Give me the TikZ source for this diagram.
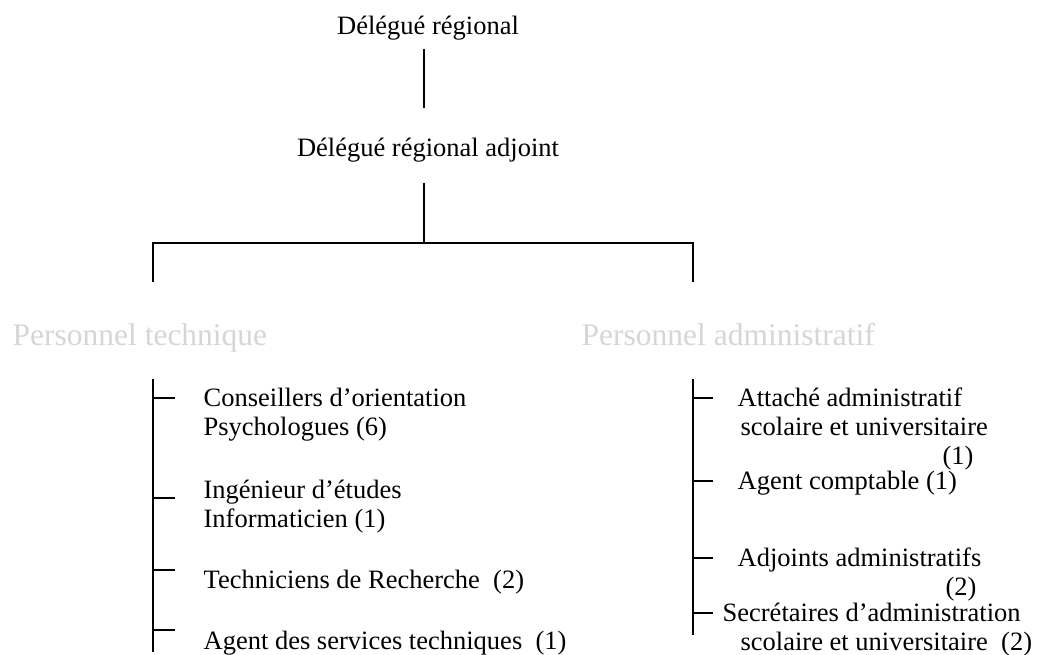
\documentclass[tikz,border=0pt]{standalone}
\usepackage{fontspec}
\setmainfont{Liberation Serif}
\begin{document}
\begin{tikzpicture}[x=1pt,y=-1pt,line width=1.3pt,
    every node/.style={inner sep=0pt,font=\fontsize{26.5}{29}\selectfont},
    post/.style={anchor=base west},
    head/.style={anchor=base west,text=gray!32,font=\fontsize{31.5}{34}\selectfont}]
      \useasboundingbox (0,0) rectangle (1039,655);
      \draw
        (428,35) node[anchor=base] (dr){Délégué régional}
        (428,157) node[anchor=base] (dra){Délégué régional adjoint}
        (12,345) node[head] (tech){Personnel technique}
        (581,345) node[head] (adm){Personnel administratif}
        (203,406) node[post] (cons){Conseillers d’orientation}
        (203,435) node[post] (psy){Psychologues (6)}
        (203,498) node[post] (ing){Ingénieur d’études}
        (203,527) node[post] (info){Informaticien (1)}
        (203,588) node[post] (techn){Techniciens de Recherche\ \ (2)}
        (203,649) node[post] (ast){Agent des services techniques\ \ (1)}
        (737,406) node[post] (att){Attaché administratif}
        (740,435) node[post] (att2){scolaire et universitaire}
        (942,464) node[post] (att3){(1)}
        (737,489) node[post] (agc){Agent comptable (1)}
        (737,566) node[post] (adj){Adjoints administratifs}
        (945,595) node[post] (adj2){(2)}
        (722,621) node[post] (sec){Secrétaires d’administration}
        (740,650) node[post] (sec2){scolaire et universitaire\ \ (2)};
      \draw
        (424,49) coordinate (a1) (424,108) coordinate (a2)
        (424,183) coordinate (b1) (424,243) coordinate (b2)
        (153,243) coordinate (hl) (693,243) coordinate (hr)
        (153,282) coordinate (dl) (693,282) coordinate (dr2)
        (153,379) coordinate (lt) (153,652) coordinate (lb)
        (693,379) coordinate (rt) (693,635) coordinate (rb)
        (175,398) coordinate (l1) (175,498) coordinate (l2)
        (175,570) coordinate (l3) (175,630) coordinate (l4)
        (713,398) coordinate (r1) (713,481) coordinate (r2)
        (713,558) coordinate (r3) (713,613) coordinate (r4);
      \begin{scope}[-]
        \draw (a1) to (a2);
        \draw (b1) to (b2);
        \draw (dl) to (hl) to (hr) to (dr2);
        \draw (lt) to (lb);
        \draw (rt) to (rb);
        \draw (lt |- l1) to (l1);
        \draw (lt |- l2) to (l2);
        \draw (lt |- l3) to (l3);
        \draw (lt |- l4) to (l4);
        \draw (rt |- r1) to (r1);
        \draw (rt |- r2) to (r2);
        \draw (rt |- r3) to (r3);
        \draw (rt |- r4) to (r4);
      \end{scope}
    \end{tikzpicture}
\end{document}
